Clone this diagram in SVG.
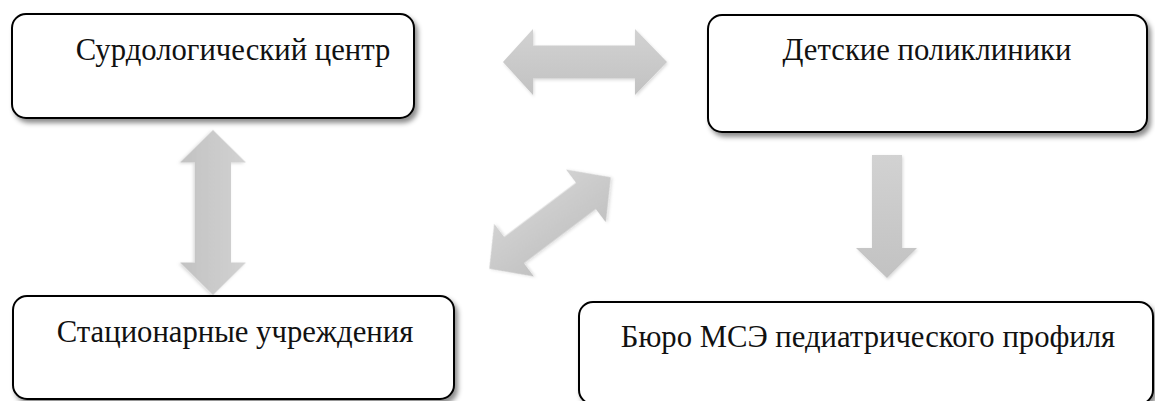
<svg xmlns="http://www.w3.org/2000/svg" width="1155" height="401" viewBox="0 0 1155 401">
  <defs>
    <filter id="shadow" x="-5%" y="-10%" width="115%" height="130%">
      <feDropShadow dx="3" dy="4" stdDeviation="2.5" flood-color="#000" flood-opacity="0.45"/>
    </filter>
    <filter id="ashadow" x="-10%" y="-10%" width="130%" height="130%">
      <feDropShadow dx="1" dy="1.5" stdDeviation="1.5" flood-color="#000" flood-opacity="0.15"/>
    </filter>
    <linearGradient id="grey" x1="0" y1="0" x2="0" y2="1">
      <stop offset="0" stop-color="#d2d2d2"/>
      <stop offset="1" stop-color="#c2c2c2"/>
    </linearGradient>
  </defs>
  <style>
    .box { fill: #ffffff; stroke: #000000; stroke-width: 2; filter: url(#shadow); }
    .lbl { font-family: "Liberation Serif", "DejaVu Serif", serif; font-size: 30.7px; fill: #111111; text-anchor: middle; }
    .arr { fill: url(#grey); stroke: none; filter: url(#ashadow); }
  </style>
  <rect width="1155" height="401" fill="#ffffff"/>

  <g id="connectors">
    <path class="arr" d="M -82,0 L -52,-33 L -52,-16.5 L 50,-16.5 L 50,-33 L 82,0 L 50,33 L 50,16.5 L -52,16.5 L -52,33 Z" transform="translate(585,62)"/>
    <path class="arr" d="M -82.5,0 L -50,-33 L -50,-18 L 50,-18 L 50,-33 L 82.5,0 L 50,33 L 50,18 L -50,18 L -50,33 Z" transform="translate(213,212.5) rotate(90)"/>
    <path class="arr" d="M -76,0 L -45,-33 L -45,-16.5 L 45,-16.5 L 45,-33 L 76,0 L 45,33 L 45,16.5 L -45,16.5 L -45,33 Z" transform="translate(550,223) rotate(-37)"/>
    <path class="arr" d="M 872,155 L 902,155 L 902,248 L 917,248 L 887,278 L 856,248 L 872,248 Z"/>
  </g>

  <g id="node-surdo">
    <rect class="box" x="12" y="14" width="402" height="104" rx="14" ry="14"/>
    <text class="lbl" x="233" y="60">Сурдологический центр</text>
  </g>
  <g id="node-poly">
    <rect class="box" x="708" y="15" width="439" height="117" rx="14" ry="14"/>
    <text class="lbl" x="927" y="60">Детские поликлиники</text>
  </g>
  <g id="node-stac">
    <rect class="box" x="13" y="296" width="441" height="103" rx="14" ry="14"/>
    <text class="lbl" x="235" y="342">Стационарные учреждения</text>
  </g>
  <g id="node-mse">
    <rect class="box" x="579" y="302" width="574" height="102" rx="14" ry="14"/>
    <text class="lbl" x="868" y="347">Бюро МСЭ педиатрического профиля</text>
  </g>
</svg>
